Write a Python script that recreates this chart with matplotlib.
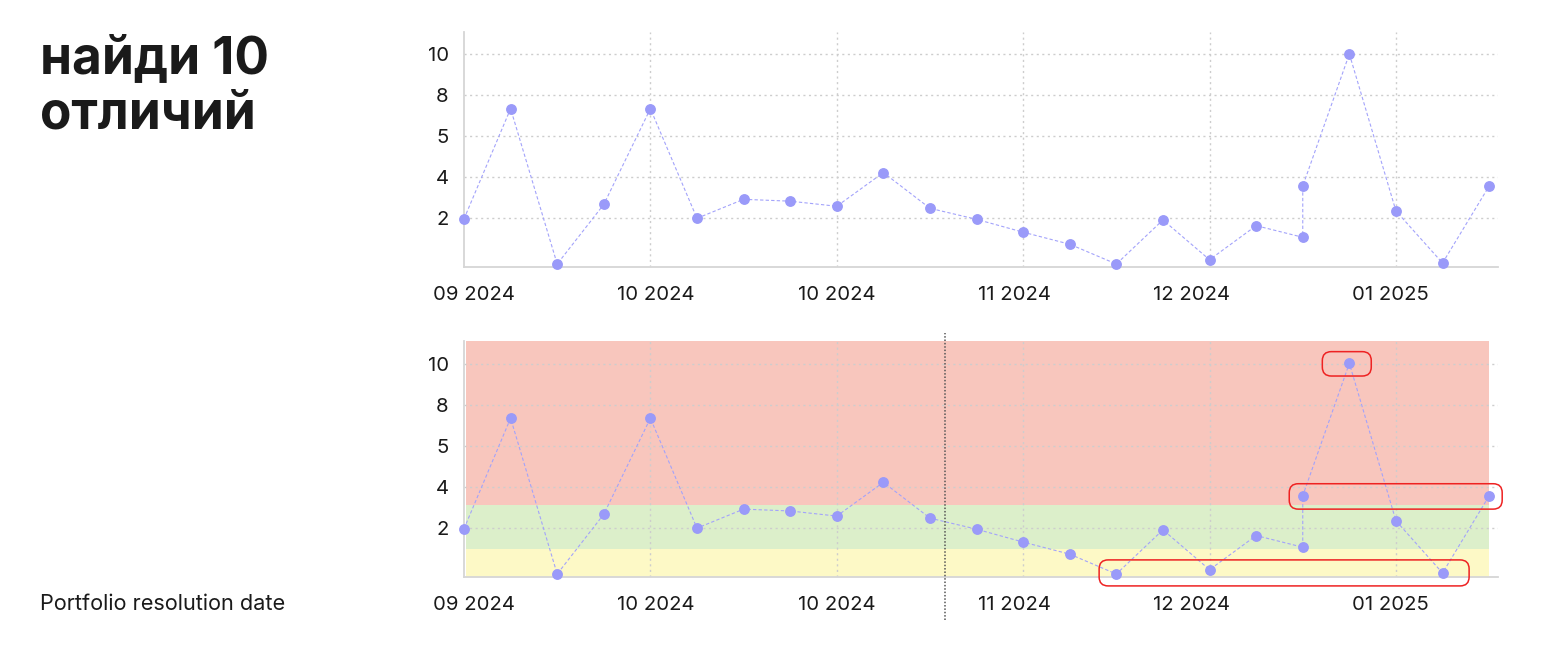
import matplotlib
matplotlib.use("Agg")
import matplotlib.pyplot as plt
import matplotlib.transforms as mtransforms
from matplotlib.patches import FancyBboxPatch

plt.rcParams['font.family'] = ['Inter', 'DejaVu Sans']

# ---- data -------------------------------------------------------------
x_index = [0, 1, 2, 3, 4, 5, 6, 7, 8, 9, 10, 11, 12, 13, 14, 15, 16, 17,
           18, 18, 19, 20, 21, 22]
values = [1.94, 7.34, -0.27, 2.65, 7.34, 1.97, 2.90, 2.81, 2.56, 4.21, 2.46,
          1.92, 1.29, 0.70, -0.27, 1.89, -0.06, 1.61, 1.04, 3.55, 10.02,
          2.33, -0.22, 3.55]
xtick_pos = [0, 4, 8, 12, 16, 20]
xtick_labels = ['09 2024', '10 2024', '10 2024', '11 2024', '12 2024', '01 2025']
# horizontal offset (pixels) of each label relative to its tick
xtick_label_shift = [9.7, 5.7, -0.4, -9.0, -18.3, -5.3]
ytick_pos = [2, 4, 6, 8, 10]
ytick_labels = ['2', '4', '5', '8', '10']
band_edges = [-0.40, 0.93, 3.10, 11.2]
band_colors = ['#fdf9c6', '#dcefca', '#f8c6bd']
band_x_end = 22
divider_x = 10.32
# highlighted groups (indices into the series) for the red boxes
box_groups = [[20], [19, 23], [14, 16, 22]]
# padding: left, right, bottom, top
box_pads = [(0.58, 0.47, 0.62, 0.57), (0.29, 0.28, 0.65, 0.59),
            (0.37, 0.57, 0.58, 0.48)]

title = 'найди 10\nотличий'
side_label = 'Portfolio resolution date'

# ---- layout -----------------------------------------------------------
W, H = 1560, 648
fig = plt.figure(figsize=(W / 100, H / 100), dpi=100)

XL = (0.036, 22.19)
YL = (-0.40, 11.11)
left = 464 / W
width = (1498 - 464) / W
ax_top = fig.add_axes([left, 1 - 266.7 / H, width, (266.7 - 31.7) / H])
ax_bot = fig.add_axes([left, 1 - 576.7 / H, width, (576.7 - 341) / H])

line_col = '#a3a3fb'
mark_col = '#9a9af9'
grid_col = '#cdcdcd'


def style(ax):
    ax.set_xlim(*XL)
    ax.set_ylim(*YL)
    for s in ['top', 'right']:
        ax.spines[s].set_visible(False)
    for s in ['left', 'bottom']:
        ax.spines[s].set_color('#d6d6d6')
        ax.spines[s].set_linewidth(1.3)
    ax.set_xticks(xtick_pos)
    ax.set_xticklabels(xtick_labels)
    ax.set_yticks(ytick_pos)
    ax.set_yticklabels(ytick_labels)
    ax.tick_params(axis='both', length=0, labelsize=14.6, colors='#1a1a1a')
    ax.tick_params(axis='x', pad=14)
    ax.tick_params(axis='y', pad=11)
    for lab, dx in zip(ax.get_xticklabels(), xtick_label_shift):
        lab.set_transform(lab.get_transform() + mtransforms.ScaledTranslation(
            dx / 100, 0, fig.dpi_scale_trans))
    ax.grid(True, linestyle=(0, (1.5, 2.5)), color=grid_col, linewidth=1)
    ax.set_axisbelow(True)
    ax.set_facecolor('none')
    ax.plot(x_index, values, linestyle=(0, (3, 2)), color=line_col,
            linewidth=0.8, zorder=3)
    ax.plot(x_index, values, linestyle='none', marker='o', markersize=6.8,
            color=mark_col, zorder=4, clip_on=False)


# bands on bottom axes
for lo, hi, c in zip(band_edges[:-1], band_edges[1:], band_colors):
    ax_bot.fill_between([XL[0], band_x_end], lo, hi, color=c, linewidth=0,
                        zorder=0)

style(ax_top)
style(ax_bot)

# hide the grid line at x=0 (coincides with the spine)
for ax in (ax_top, ax_bot):
    gl = ax.get_xgridlines()
    gl[0].set_visible(False)

# divider line on bottom chart
trans = mtransforms.blended_transform_factory(ax_bot.transData, ax_bot.transAxes)
ax_bot.plot([divider_x, divider_x], [-0.184, 1.034], transform=trans,
            color='#555555', linestyle=(0, (1, 1.2)), linewidth=1.1,
            clip_on=False, zorder=5)

# red highlight boxes
px_per_x = (1498 - 464) / (XL[1] - XL[0])
px_per_y = (576.7 - 341) / (YL[1] - YL[0])
aspect = px_per_x / px_per_y
r = 9 / px_per_x
for grp, (pl, pr, pb, pt) in zip(box_groups, box_pads):
    xs = [x_index[i] for i in grp]
    ys = [values[i] for i in grp]
    x0, x1 = min(xs) - pl, max(xs) + pr
    y0, y1 = min(ys) - pb, max(ys) + pt
    p = FancyBboxPatch((x0, y0), x1 - x0, y1 - y0,
                       boxstyle=f'round,pad=0,rounding_size={r}',
                       mutation_aspect=aspect,
                       facecolor='none', edgecolor='#ee2222', linewidth=1.1,
                       clip_on=False, zorder=6, transform=ax_bot.transData)
    ax_bot.add_patch(p)

# texts
fig.text(40 / W, 1 - 35 / H, title, fontsize=37, fontweight='bold',
         color='#1a1a1a', va='top', ha='left', linespacing=1.17)
fig.text(40 / W, 1 - 604 / H, side_label, fontsize=15.6, color='#1a1a1a',
         va='center', ha='left')

fig.savefig('out.png', dpi=100)
